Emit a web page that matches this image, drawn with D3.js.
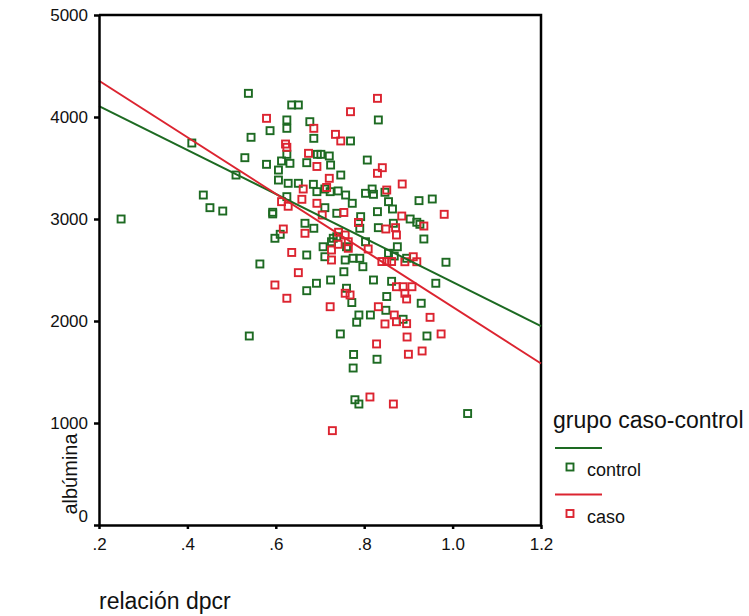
<!DOCTYPE html>
<html>
<head>
    <title>albúmina vs relación dpcr</title>
    <script src="https://d3js.org/d3.v7.min.js"></script>
    <style>
        body { margin: 0; background: #fff; font-family: "Liberation Sans", Arial, sans-serif; }
        .axis path, .axis line { stroke: #000; stroke-width: 2.5; }
        .axis text { font-size: 17px; fill: #111; font-family: "Liberation Sans", Arial, sans-serif; }
    </style>
</head>
<body>
<div id="chart"></div>
<script>
    // values: [relación dpcr, albúmina]
    const control = [
        [0.25,3000],[0.41,3745],[0.436,3235],[0.451,3111],[0.48,3078],[0.51,3431],[0.54,1853],[0.538,4232],[1.034,1093],
        [0.636,4118],[0.651,4118],[0.625,3971],[0.625,3889],[0.587,3866],[0.677,3954],[0.686,3791],[0.544,3801],[0.53,3601],
        [0.625,3634],[0.694,3634],[0.702,3634],[0.721,3618],[0.724,3529],[0.579,3536],[0.613,3569],[0.632,3546],[0.67,3552],
        [0.606,3480],[0.606,3382],[0.628,3350],[0.685,3340],[0.693,3268],[0.711,3294],[0.723,3268],[0.741,3275],[0.625,3219],
        [0.711,3111],[0.593,3066],[0.593,3050],[0.738,3056],[0.666,2958],[0.686,2909],[0.61,2850],[0.598,2811],[0.707,2728],
        [0.73,2811],[0.738,2826],[0.67,2647],[0.711,2630],[0.564,2559],[0.832,3971],[0.769,3765],[0.807,3578],[0.747,3431],
        [0.758,3235],[0.803,3252],[0.818,3294],[0.821,3242],[0.847,3262],[0.773,3154],[0.855,3170],[0.864,3098],[0.924,3180],
        [0.954,3196],[0.83,3072],[0.792,3023],[0.79,2909],[0.832,2915],[0.866,2958],[0.904,3000],[0.919,2968],[0.926,2948],
        [0.935,2804],[0.875,2728],[0.803,2777],[0.855,2664],[0.896,2615],[0.985,2576],[0.775,2615],[0.79,2615],[0.757,2598],
        [0.76,2728],[0.726,2777],[0.868,2637],[0.797,2532],[0.754,2483],[0.724,2402],[0.692,2370],[0.67,2297],[0.821,2402],
        [0.862,2389],[0.76,2321],[0.772,2181],[0.851,2240],[0.849,2105],[0.788,2059],[0.814,2059],[0.783,1988],[0.746,1873],
        [0.962,2370],[0.929,2174],[0.888,2017],[0.942,1853],[0.776,1672],[0.829,1625],[0.775,1539],[0.779,1228],[0.788,1186],
        [0.651,3350]
    ];
    const caso = [
        [0.728,925],[0.579,3987],[0.686,3889],[0.735,3830],[0.747,3765],[0.622,3735],[0.625,3703],[0.674,3644],[0.693,3515],
        [0.721,3399],[0.715,3309],[0.662,3294],[0.613,3170],[0.628,3125],[0.659,3193],[0.693,3154],[0.705,3039],[0.617,2902],
        [0.666,2860],[0.726,2696],[0.636,2672],[0.726,2598],[0.83,4183],[0.769,4052],[0.841,3503],[0.83,3448],[0.886,3343],
        [0.851,3284],[0.754,3064],[0.981,3046],[0.885,3029],[0.787,2966],[0.849,2902],[0.871,2915],[0.873,2843],[0.935,2931],
        [0.757,2843],[0.742,2870],[0.764,2777],[0.764,2713],[0.741,2752],[0.809,2706],[0.911,2630],[0.919,2581],[0.892,2581],
        [0.84,2583],[0.851,2583],[0.862,2583],[0.651,2474],[0.598,2353],[0.625,2223],[0.757,2272],[0.768,2255],[0.723,2140],
        [0.832,2140],[0.873,2336],[0.888,2336],[0.908,2336],[0.892,2272],[0.896,2216],[0.868,2059],[0.873,1993],[0.847,1971],
        [0.896,1974],[0.949,2036],[0.897,1843],[0.974,1873],[0.828,1775],[0.9,1674],[0.931,1706],[0.813,1255],[0.866,1186]
    ];
    const groups = ["control", "caso"];
    const groupColors = ["#1d6a22", "#dc2430"];
    // linear fit per group: albúmina = intercept + slope * dpcr
    const fitIntercept = [4539, 4910];
    const fitSlope = [-2157, -2772];
    const xTicks = [0.2, 0.4, 0.6, 0.8, 1.0, 1.2];
    const xTickLabels = [".2", ".4", ".6", ".8", "1.0", "1.2"];
    const yTicks = [0, 1000, 2000, 3000, 4000, 5000];

    const width = 749, height = 616;
    const plot = { left: 99, right: 541, top: 15, bottom: 525 };

    const svg = d3.select("#chart").append("svg")
        .attr("width", width)
        .attr("height", height);
    svg.append("rect").attr("width", width).attr("height", height).attr("fill", "#fff");

    const x = d3.scaleLinear().domain([0.2, 1.2]).range([plot.left, plot.right]);
    const y = d3.scaleLinear().domain([0, 5000]).range([plot.bottom, plot.top]);

    // frame top + right
    svg.append("path")
        .attr("d", `M${plot.left},${plot.top}H${plot.right}V${plot.bottom}`)
        .attr("fill", "none").attr("stroke", "#000").attr("stroke-width", 2.5);

    // points
    [control, caso].forEach((pts, g) => {
        svg.append("g").selectAll("rect")
            .data(pts)
            .enter().append("rect")
            .attr("x", d => x(d[0]) - 3.5)
            .attr("y", d => y(d[1]) - 3.5)
            .attr("width", 7).attr("height", 7)
            .attr("fill", "none")
            .attr("stroke", groupColors[g])
            .attr("stroke-width", 1.9);
    });

    // fit lines
    groups.forEach((name, g) => {
        const x0 = 0.2, x1 = 1.2;
        svg.append("line")
            .attr("x1", x(x0)).attr("y1", y(fitIntercept[g] + fitSlope[g] * x0))
            .attr("x2", x(x1)).attr("y2", y(fitIntercept[g] + fitSlope[g] * x1))
            .attr("stroke", groupColors[g]).attr("stroke-width", 2);
    });

    const yAxis = svg.append("g").attr("class", "axis")
        .attr("transform", `translate(${plot.left},0)`)
        .call(d3.axisLeft(y).tickValues(yTicks).tickSize(5).tickSizeOuter(0).tickPadding(6).tickFormat(d3.format("d")));
    yAxis.selectAll(".tick").filter(d => d === 0).select("text").attr("dy", "-0.2em");

    svg.append("g").attr("class", "axis")
        .attr("transform", `translate(0,${plot.bottom})`)
        .call(d3.axisBottom(x).tickValues(xTicks).tickSize(4).tickSizeOuter(0).tickPadding(9)
            .tickFormat((d, i) => xTickLabels[i]));

    // axis titles
    svg.append("text")
        .attr("x", 99).attr("y", 609)
        .attr("font-size", 23).attr("fill", "#111")
        .text("relación dpcr");
    svg.append("text")
        .attr("transform", "translate(77,474) rotate(-90)")
        .attr("text-anchor", "middle")
        .attr("font-size", 20).attr("fill", "#111")
        .text("albúmina");

    // legend
    const legend = svg.append("g");
    legend.append("text")
        .attr("x", 553).attr("y", 428)
        .attr("font-size", 23).attr("fill", "#111")
        .text("grupo caso-control");
    groups.forEach((name, g) => {
        const ly = 448 + g * 46.5;
        legend.append("line")
            .attr("x1", 555).attr("x2", 602).attr("y1", ly).attr("y2", ly)
            .attr("stroke", groupColors[g]).attr("stroke-width", 2);
        legend.append("rect")
            .attr("x", 566.5).attr("y", ly + 15.5).attr("width", 7).attr("height", 7)
            .attr("fill", "none").attr("stroke", groupColors[g]).attr("stroke-width", 1.9);
        legend.append("text")
            .attr("x", 587).attr("y", ly + 28)
            .attr("font-size", 18).attr("fill", "#111")
            .text(name);
    });
</script>
</body>
</html>
